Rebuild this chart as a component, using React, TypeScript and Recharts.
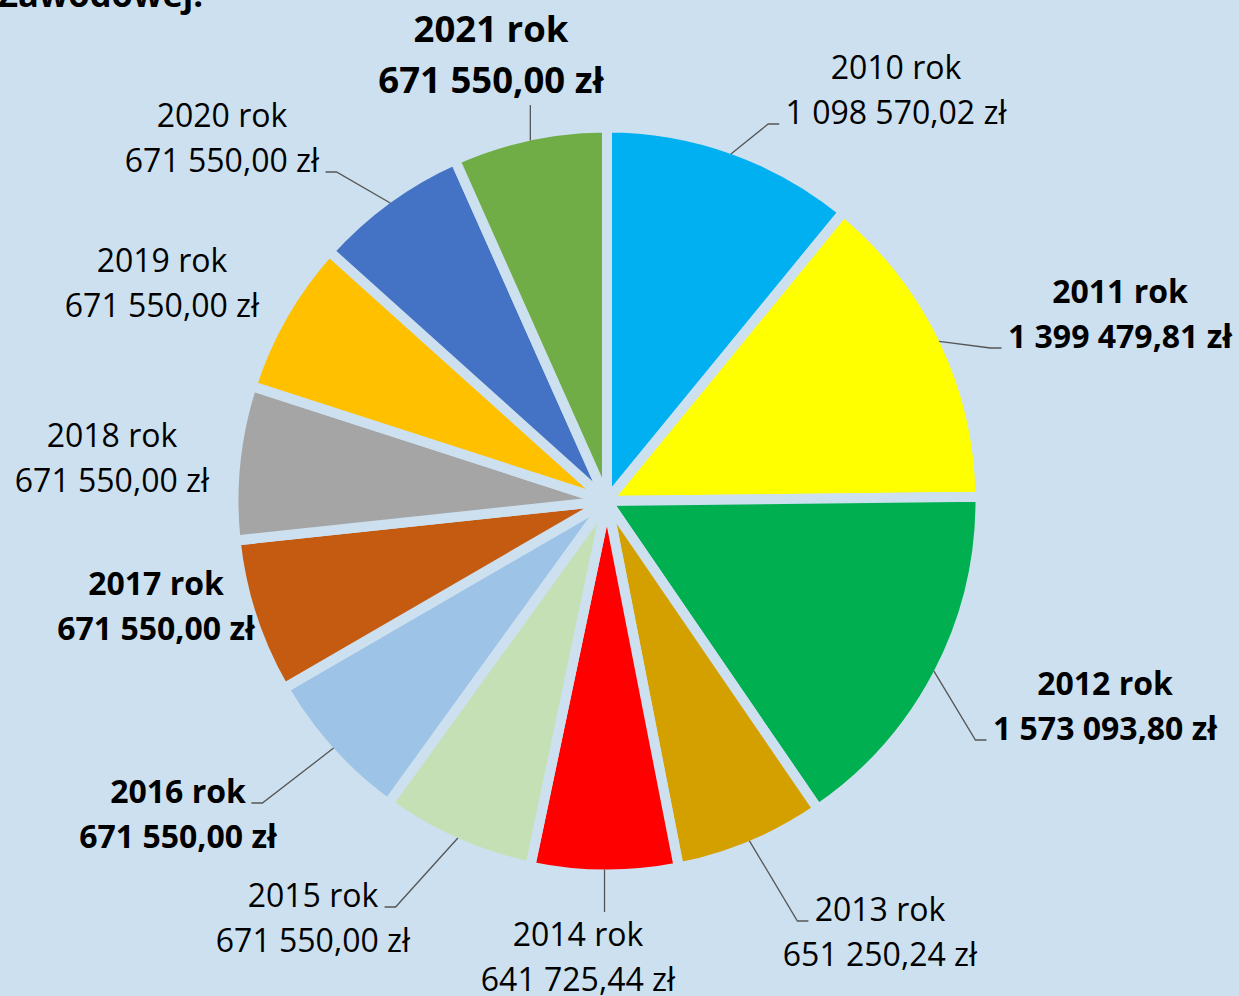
import { PieChart, Pie, Cell } from 'recharts';

const years = ['2010', '2011', '2012', '2013', '2014', '2015', '2016', '2017', '2018', '2019', '2020', '2021'];
const amounts = [
  1098570.02, 1399479.81, 1573093.8, 651250.24, 641725.44, 671550.0, 671550.0, 671550.0, 671550.0,
  671550.0, 671550.0, 671550.0,
];
const sliceColors = [
  '#00B0F0', '#FFFF00', '#00B050', '#D4A000', '#FF0000', '#C5E0B4', '#9DC3E6', '#C55A11', '#A5A5A5',
  '#FFC000', '#4472C4', '#70AD47',
];

const BG = '#CCE0EF';
const GAP = 10;
const FONT = '"Open Sans", "Liberation Sans", sans-serif';

type Leader = 'none' | 'top' | 'bottom' | 'left' | 'right';

// label block: centre x and first baseline, as offsets from the pie centre
const labelLayout: { dx: number; dy: number; bold: boolean; big?: boolean; leader: Leader; line?: number }[] = [
  { dx: 289, dy: -422, bold: false, leader: 'left', line: 1 },
  { dx: 513, dy: -198, bold: true, leader: 'left', line: 1 },
  { dx: 498, dy: 194, bold: true, leader: 'left', line: 1 },
  { dx: 273, dy: 420, bold: false, leader: 'left', line: 0 },
  { dx: -29, dy: 445, bold: false, leader: 'top' },
  { dx: -294, dy: 406, bold: false, leader: 'right', line: 0 },
  { dx: -429, dy: 302, bold: true, leader: 'right', line: 0 },
  { dx: -451, dy: 94, bold: true, leader: 'none' },
  { dx: -495, dy: -54, bold: false, leader: 'none' },
  { dx: -445, dy: -229, bold: false, leader: 'none' },
  { dx: -385, dy: -374, bold: false, leader: 'right', line: 1 },
  { dx: -116, dy: -459, bold: true, big: true, leader: 'bottom' },
];

const formatPLN = (v: number) => {
  const [intPart, dec] = v.toFixed(2).split('.');
  return `${intPart.replace(/\B(?=(\d{3})+(?!\d))/g, ' ')},${dec} zł`;
};

const charW = (ch: string, bold: boolean) => {
  if (/\d/.test(ch)) return 0.572;
  const reg: Record<string, number> = { ' ': 0.26, ',': 0.245, z: 0.473, 'ł': 0.28, r: 0.408, o: 0.612, k: 0.531 };
  const bld: Record<string, number> = { ' ': 0.26, ',': 0.286, z: 0.5, 'ł': 0.32, r: 0.444, o: 0.619, k: 0.6 };
  return (bold ? bld : reg)[ch] ?? 0.55;
};

const textWidth = (s: string, fs: number, bold: boolean) =>
  s.split('').reduce((acc, ch) => acc + charW(ch, bold), 0) * fs;

const renderLabel = (props: any) => {
  const { cx, cy, midAngle, outerRadius, index } = props;
  const lay = labelLayout[index];
  const fs = lay.big ? 36.5 : 32;
  const lh = lay.big ? 51 : 45;
  const x = cx + lay.dx;
  const y0 = cy + lay.dy;
  const lines = [`${years[index]} rok`, formatPLN(amounts[index])];

  const rad = (-midAngle * Math.PI) / 180;
  const r = outerRadius - GAP / 2;
  const sx = cx + r * Math.cos(rad);
  const sy = cy + r * Math.sin(rad);

  let pts: number[][] | null = null;
  if (lay.leader === 'top') {
    pts = [[sx, sy], [sx, y0 - fs * 1.06]];
  } else if (lay.leader === 'bottom') {
    pts = [[sx, sy], [sx, y0 + lh + 12]];
  } else if (lay.leader === 'left' || lay.leader === 'right') {
    const li = lay.line ?? 0;
    const yb = y0 + li * lh;
    const hw = textWidth(lines[li], fs, lay.bold) / 2;
    if (lay.leader === 'left') {
      const ex = x - hw - 6;
      pts = [[sx, sy], [ex - 11, yb], [ex, yb]];
    } else {
      const ex = x + hw + 6;
      pts = [[sx, sy], [ex + 11, yb], [ex, yb]];
    }
  }

  return (
    <g key={`lbl-${index}`}>
      {pts && (
        <polyline
          points={pts.map((p) => p.join(',')).join(' ')}
          fill="none"
          stroke="#555555"
          strokeWidth={1.3}
        />
      )}
      {lines.map((t, i) => (
        <text
          key={i}
          x={x}
          y={y0 + i * lh}
          textAnchor="middle"
          fontFamily={FONT}
          fontSize={fs}
          fontWeight={lay.bold ? 700 : 400}
          fill="#000000"
        >
          {t}
        </text>
      ))}
    </g>
  );
};

const App = () => {
  const data = years.map((y, i) => ({ name: `${y} rok`, value: amounts[i] }));

  return (
    <div
      style={{
        position: 'absolute',
        left: 0,
        top: 0,
        width: 1239,
        height: 996,
        background: BG,
        overflow: 'hidden',
      }}
    >
      <PieChart width={1239} height={996} margin={{ top: 0, right: 0, bottom: 0, left: 0 }}>
        <Pie
          data={data}
          dataKey="value"
          nameKey="name"
          cx={607}
          cy={501}
          outerRadius={368.5 + GAP / 2}
          startAngle={90}
          endAngle={-270}
          stroke={BG}
          strokeWidth={GAP}
          label={renderLabel}
          labelLine={false}
          isAnimationActive={false}
        >
          {data.map((entry, index) => (
            <Cell key={`cell-${index}`} fill={sliceColors[index]} />
          ))}
        </Pie>
      </PieChart>
      <svg
        width={1239}
        height={60}
        style={{ position: 'absolute', left: 0, top: 0, pointerEvents: 'none' }}
      >
        <text x={-2} y={7} fontFamily={FONT} fontSize={34.5} fontWeight={700} fill="#000000">
          Zawodowej.
        </text>
      </svg>
    </div>
  );
};

export default App;
